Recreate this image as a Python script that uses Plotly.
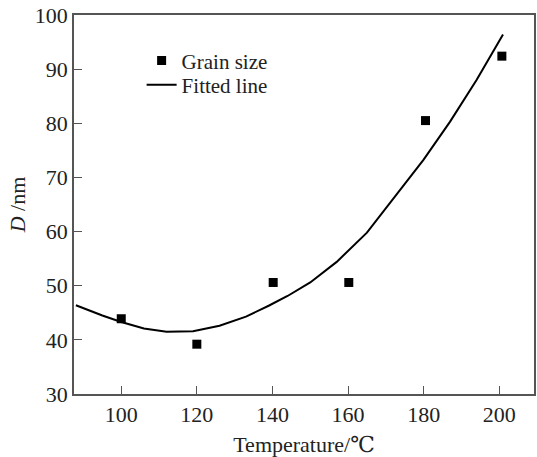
import plotly.graph_objects as go

# Measured grain size
temp_pts = [100, 120, 140.2, 160.2, 180.5, 200.7]
grain_size = [43.9, 39.2, 50.6, 50.6, 80.5, 92.4]

# Fitted line
fit_temp = [88, 95, 100, 106, 112, 119, 126, 133, 139, 144, 150, 157, 165, 173, 180, 187, 194, 201]
fit_d = [46.4, 44.5, 43.3, 42.1, 41.5, 41.6, 42.6, 44.3, 46.3, 48.1, 50.6, 54.4, 59.8, 67.1, 73.3, 80.3, 88.0, 96.4]

x_ticks = [100, 120, 140, 160, 180, 200]
y_ticks = [30, 40, 50, 60, 70, 80, 90, 100]

FONT = "Liberation Serif, Times New Roman, DejaVu Serif, serif"
FS = 22

fig = go.Figure()
fig.add_trace(go.Scatter(
    x=temp_pts, y=grain_size, mode="markers", name="Grain size",
    marker=dict(symbol="square", size=9, color="black"),
    legend="legend",
))
fig.add_trace(go.Scatter(
    x=fit_temp, y=fit_d, mode="lines", name="Fitted line",
    line=dict(color="black", width=2),
    legend="legend2",
))

axis_common = dict(
    showline=True, linecolor="#555555", linewidth=1.5, mirror=True,
    ticks="inside", ticklen=8, tickwidth=1.2, tickcolor="#555555",
    showgrid=False, zeroline=False,
    tickfont=dict(family=FONT, size=FS, color="#222222"),
)

leg_common = dict(xanchor="left", yanchor="middle", bgcolor="rgba(0,0,0,0)",
                  font=dict(family=FONT, size=21, color="#222222"), itemwidth=30)

fig.update_layout(
    width=537, height=457,
    margin=dict(l=74, r=1, t=15, b=63),
    paper_bgcolor="white", plot_bgcolor="white",
    font=dict(family=FONT, size=FS, color="#222222"),
    xaxis=dict(range=[87.5, 209.2], tickvals=x_ticks,
               title=dict(text="Temperature/℃", font=dict(family=FONT, size=FS), standoff=11),
               **axis_common),
    yaxis=dict(range=[30, 100], tickvals=y_ticks,
               title=dict(text="<i>D</i> /nm", font=dict(family=FONT, size=FS), standoff=3),
               **axis_common),
    legend=dict(x=0.147, y=0.879, **leg_common),
    legend2=dict(x=0.147, y=0.815, **leg_common),
    showlegend=True,
)

fig.write_html("out.html")
